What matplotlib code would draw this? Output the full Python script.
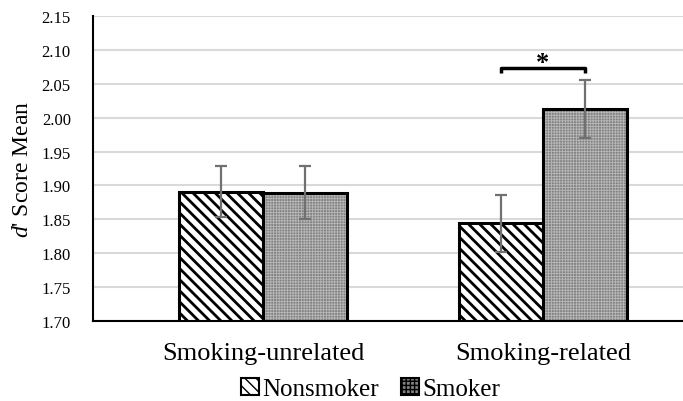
import matplotlib
matplotlib.use("Agg")
import matplotlib.pyplot as plt
from matplotlib.patches import Patch
import numpy as np

plt.rcParams['font.family'] = ['Liberation Serif', 'DejaVu Serif']
plt.rcParams['mathtext.fontset'] = 'custom'
plt.rcParams['mathtext.it'] = 'Liberation Serif:italic'
plt.rcParams['mathtext.rm'] = 'Liberation Serif'

categories = ['Smoking-unrelated', 'Smoking-related']
nonsmoker = [1.891, 1.844]
smoker = [1.889, 2.013]
nonsmoker_err = [0.038, 0.042]
smoker_err = [0.039, 0.043]
yticks = [1.70, 1.75, 1.80, 1.85, 1.90, 1.95, 2.00, 2.05, 2.10, 2.15]

fig = plt.figure(figsize=(6.83, 4.02), dpi=100)
ax = fig.add_axes([0.1362, 0.199, 0.8638, 0.7587])

x = np.arange(len(categories))
w = 0.3

# nonsmoker: bold diagonal stripes
with plt.rc_context({'hatch.linewidth': 2.0, 'hatch.color': 'black'}):
    ax.bar(x - w / 2, nonsmoker, w, color='white', edgecolor='black',
           hatch='\\\\\\', linewidth=0, zorder=2)
# smoker: fine grey texture
with plt.rc_context({'hatch.linewidth': 0.6}):
    ax.bar(x + w / 2, smoker, w, color='#828282', edgecolor='#b8b8b8',
           hatch='++++++', linewidth=0, zorder=2)
# outlines
ax.bar(x - w / 2, nonsmoker, w, color='none', edgecolor='black', linewidth=2.2, zorder=3)
ax.bar(x + w / 2, smoker, w, color='none', edgecolor='black', linewidth=2.2, zorder=3)

ax.errorbar(x - w / 2, nonsmoker, yerr=nonsmoker_err, fmt='none', ecolor='#707070',
            elinewidth=1.6, capsize=4, capthick=1.6, zorder=4)
ax.errorbar(x + w / 2, smoker, yerr=smoker_err, fmt='none', ecolor='#707070',
            elinewidth=1.6, capsize=4, capthick=1.6, zorder=4)

# significance bracket
bx0, bx1 = x[1] - w / 2, x[1] + w / 2
by = 2.073
ax.plot([bx0, bx0, bx1, bx1], [by - 0.007, by, by, by - 0.007], color='black',
        linewidth=2.5, solid_capstyle='butt', zorder=4)
ax.text(x[1], 2.082, '*', ha='center', va='center', fontsize=19, fontweight='bold')

ax.set_xlim(-0.607, 1.5)
ax.set_ylim(1.70, 2.15)
ax.set_yticks(yticks)
ax.set_yticklabels([f'{v:.2f}' for v in yticks], fontsize=12)
ax.set_xticks(x)
ax.set_xticklabels(categories, fontsize=19)
ax.tick_params(axis='both', length=0)
ax.tick_params(axis='y', pad=16)
ax.tick_params(axis='x', pad=15)

ax.yaxis.grid(True, color='#d9d9d9', linewidth=1.5, zorder=0)
ax.set_axisbelow(True)
for s in ['top', 'right']:
    ax.spines[s].set_visible(False)
ax.spines['left'].set_linewidth(1.5)
ax.spines['bottom'].set_linewidth(1.5)

ax.set_ylabel("$\\mathit{d}$' Score Mean", fontsize=17, labelpad=6)

with plt.rc_context({'hatch.linewidth': 1.5}):
    h1 = Patch(facecolor='white', edgecolor='black', hatch='\\\\\\', linewidth=1.5)
with plt.rc_context({'hatch.linewidth': 0.6}):
    h2 = Patch(facecolor='#828282', edgecolor='black', hatch='++++', linewidth=1.5)
fig.legend([h1, h2], ['Nonsmoker', 'Smoker'], loc='lower center', bbox_to_anchor=(0.543, -0.036),
           ncol=2, frameon=False, fontsize=18, handlelength=0.7, handleheight=0.7,
           handletextpad=0.15, columnspacing=0.9, borderpad=0.1)

fig.savefig('out.png', dpi=100)
